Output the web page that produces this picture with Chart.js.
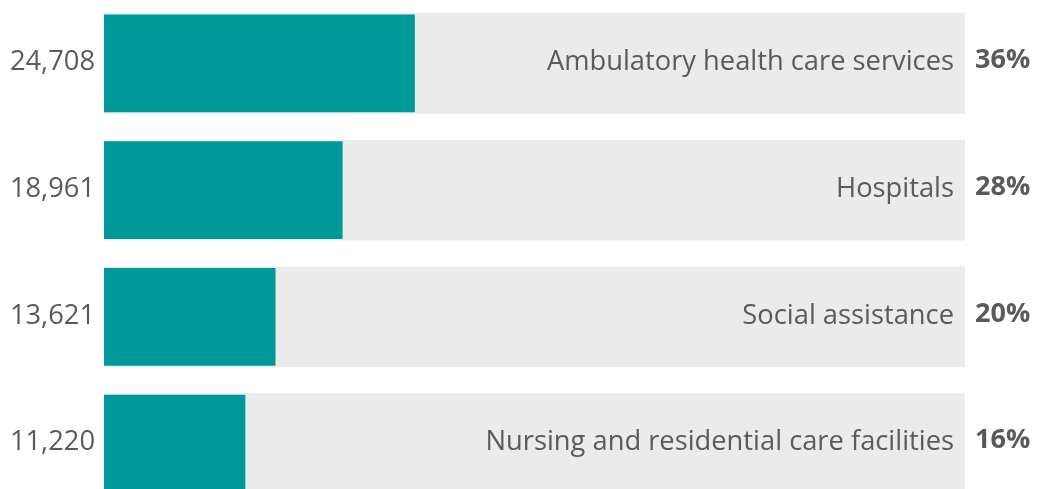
<!DOCTYPE html>
<html>
<head>
<meta charset="utf-8">
<script src="https://cdn.jsdelivr.net/npm/chart.js@4/dist/chart.umd.min.js"></script>
<style>
  html, body { margin: 0; padding: 0; background: #ffffff; overflow: hidden; }
  #wrap { width: 1045px; height: 507px; position: relative; }
</style>
</head>
<body>
<div id="wrap"><canvas id="c" width="1045" height="507"></canvas></div>
<script>
const categories = [
  "Ambulatory health care services",
  "Hospitals",
  "Social assistance",
  "Nursing and residential care facilities"
];
const values = [24708, 18961, 13621, 11220];
const valueLabels = ["24,708", "18,961", "13,621", "11,220"];
const shareLabels = ["36%", "28%", "20%", "16%"];
const total = values.reduce((a, b) => a + b, 0);
const totals = values.map(() => total);

const TEXT = "#5a5a5a";
const FONT = '"Open Sans", "Noto Sans", sans-serif';

const labelPlugin = {
  id: "rowLabels",
  afterDatasetsDraw(chart) {
    const ctx = chart.ctx;
    const meta = chart.getDatasetMeta(0);
    const area = chart.chartArea;
    ctx.save();
    meta.data.forEach((bar, i) => {
      const y = bar.y;
      ctx.fillStyle = TEXT;
      ctx.textBaseline = "middle";
      ctx.font = "27.3px " + FONT;
      ctx.textAlign = "right";
      ctx.fillText(valueLabels[i], area.left - 9, y - 1);
      ctx.fillText(categories[i], area.right - 11, y - 1);
      ctx.font = "bold 27px " + FONT;
      ctx.textAlign = "left";
      ctx.fillText(shareLabels[i], area.right + 10, y - 3);
    });
    ctx.restore();
  }
};

new Chart(document.getElementById("c"), {
  type: "bar",
  data: {
    labels: categories,
    datasets: [
      {
        data: values,
        backgroundColor: "#009999",
        barThickness: 97,
        grouped: false,
        order: 0
      },
      {
        data: totals,
        backgroundColor: "#ebebeb",
        barThickness: 100,
        grouped: false,
        order: 1
      }
    ]
  },
  options: {
    indexAxis: "y",
    responsive: false,
    animation: false,
    devicePixelRatio: 1,
    layout: { padding: { left: 104, right: 80, top: 0, bottom: 0 } },
    scales: {
      x: { min: 0, max: total, display: false, grid: { display: false } },
      y: { display: false, grid: { display: false } }
    },
    plugins: {
      legend: { display: false },
      tooltip: { enabled: false }
    }
  },
  plugins: [labelPlugin]
});
</script>
</body>
</html>
